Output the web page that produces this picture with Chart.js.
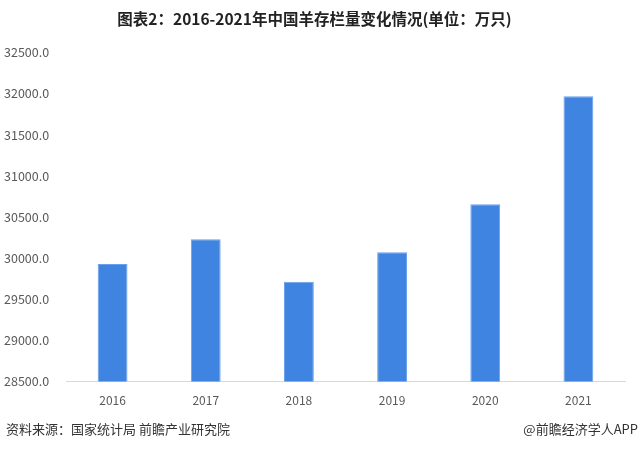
<!DOCTYPE html>
<html>
<head>
<meta charset="utf-8">
<script src="https://cdn.jsdelivr.net/npm/chart.js@4.4.0/dist/chart.umd.min.js"></script>
<style>
  html, body { margin: 0; padding: 0; background: #fff; }
  #wrap { width: 640px; height: 449px; position: relative; }
</style>
</head>
<body>
<div id="wrap"><canvas id="myChart"></canvas></div>
<script>
// ===== data =====
var years = ["2016", "2017", "2018", "2019", "2020", "2021"];
var sheepStock = [29930.5, 30231.7, 29713.5, 30072.1, 30654.8, 31969.3];
var yMin = 28500;
var yMax = 32500;
var yStep = 500;

var titleText = "图表2：2016-2021年中国羊存栏量变化情况(单位：万只)";
var sourceText = "资料来源：国家统计局 前瞻产业研究院";
var brandText = "@前瞻经济学人APP";

var fontFamily = "'Noto Sans CJK SC', 'Noto Sans', 'DejaVu Sans', sans-serif";

// footer text drawn under the chart
var footerPlugin = {
  id: "footer",
  afterDraw: function (chart) {
    var c = chart.ctx;
    c.save();
    c.fillStyle = "#333";
    c.font = "13px " + fontFamily;
    c.textBaseline = "middle";
    c.textAlign = "left";
    c.fillText(sourceText, 6, 429);
    c.textAlign = "right";
    c.fillText(brandText, 638, 429);
    c.restore();
  }
};

var config = {
  type: "bar",
  data: {
    labels: years,
    datasets: [
      {
        label: "羊存栏量",
        data: sheepStock,
        backgroundColor: "#3f84e0",
        borderColor: "#6aa0ea",
        borderWidth: { top: 1, left: 1, right: 1, bottom: 0 },
        barPercentage: 0.64,
        categoryPercentage: 0.5,
      },
    ],
  },
  options: {
    responsive: true,
    maintainAspectRatio: false,
    animation: false,
    layout: {
      padding: { left: 4, right: 15, top: 6, bottom: 29 },
    },
    plugins: {
      legend: { display: false },
      tooltip: { enabled: false },
      title: {
        display: true,
        text: titleText,
        color: "#222",
        font: { family: fontFamily, size: 15.5, weight: "bold" },
        padding: { top: 4, bottom: 24 },
      },
    },
    scales: {
      x: {
        grid: { display: false, drawTicks: false },
        border: { display: true, color: "#d9d9d9", width: 1 },
        ticks: {
          color: "#595959",
          font: { family: fontFamily, size: 12 },
          padding: 12,
        },
      },
      y: {
        min: yMin,
        max: yMax,
        grid: { display: false, drawTicks: false },
        border: { display: false },
        afterFit: function (scale) {
          scale.width = 62;
        },
        ticks: {
          stepSize: yStep,
          crossAlign: "far",
          color: "#595959",
          font: { family: fontFamily, size: 12.5 },
          callback: function (value) {
            return value.toFixed(1);
          },
        },
      },
    },
  },
  plugins: [footerPlugin],
};

var ctx = document.getElementById("myChart").getContext("2d");
new Chart(ctx, config);
</script>
</body>
</html>
